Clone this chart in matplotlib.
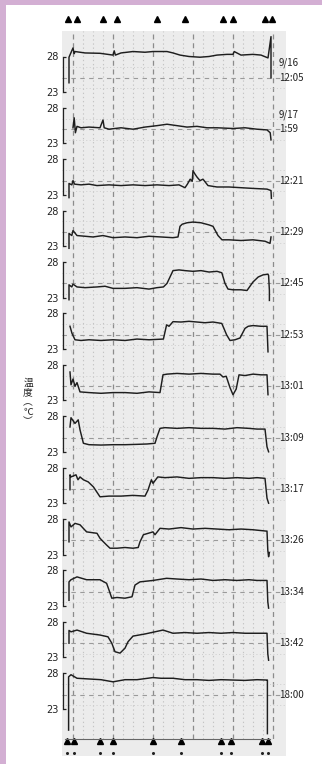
import matplotlib
matplotlib.use("Agg")
import matplotlib.pyplot as plt
from matplotlib.patches import Rectangle

# ---------------- data ----------------
time_labels = ["12:05", "1:59", "12:21", "12:29", "12:45", "12:53", "13:01",
               "13:09", "13:17", "13:26", "13:34", "13:42", "18:00"]
date_labels = ["9/16", "9/17", "", "", "", "", "", "", "", "", "", "", ""]
ytick_vals = [23, 28]
ytick_labels = ["23", "28"]

top_marks = [-1.25, 1, 7.5, 11, 21, 28, 37.5, 40, 48, 49.75]
bottom_marks = [-1.5, 0.25, 6.75, 10, 20, 27, 37, 39.5, 47.25, 48.75]

s1_t = [-1, -1, 0, 0.3, 0.5, 3, 6.75, 10, 10.3, 10.6, 12, 15, 18, 20, 23.5, 25, 26.75, 29, 31.75, 34, 36, 38.5, 40, 40.3, 42, 45, 47, 48.75, 49.5, 49.5]
s1_v = [24.3, 27.9, 29.2, 28.4, 28.7, 28.5, 28.45, 28.2, 28.8, 28.2, 28.5, 28.7, 28.6, 28.7, 28.7, 28.5, 28.2, 28.0, 27.9, 28.0, 28.2, 28.3, 28.3, 28.7, 28.2, 28.3, 28.2, 27.8, 30.8, 25.0]

s2_t = [0, 0.3, 0.6, 1, 2, 4, 6.75, 7.5, 7.8, 9, 12, 15, 18, 21, 23.5, 26, 28.5, 31, 33.5, 36, 40, 43, 46, 48.5, 49.3, 49.5]
s2_v = [25.2, 26.6, 24.5, 25.4, 25.2, 25.3, 25.2, 26.3, 25.2, 25.0, 25.2, 25.0, 25.3, 25.5, 25.7, 25.5, 25.3, 25.4, 25.2, 25.2, 25.1, 25.2, 25.0, 24.9, 24.5, 23.5]

s3_t = [-1, -1, -0.3, 0, 0.4, 2, 4, 6, 9, 12, 15, 18, 21, 24, 26.5, 28, 28.6, 29.3, 29.8, 30, 30.4, 31, 31.75, 32.5, 33.75, 36, 39, 42, 45, 48.5, 49.5, 49.6]
s3_v = [22.6, 24.6, 24.4, 25.0, 24.5, 24.4, 24.5, 24.3, 24.4, 24.3, 24.4, 24.3, 24.4, 24.3, 24.4, 24.0, 24.5, 25.2, 24.9, 26.4, 26.0, 25.5, 25.0, 25.2, 24.3, 24.1, 24.1, 24.0, 23.9, 23.8, 23.6, 22.5]

s4_t = [-1, -1, -0.3, 0, 1, 3, 5, 7.5, 10, 13, 16, 19, 22, 25, 26.25, 26.75, 27.3, 28.5, 30, 32, 34, 35, 36.25, 37.25, 39, 42, 45, 48, 49.25, 49.4, 49.5]
s4_v = [22.7, 24.8, 24.5, 25.2, 24.5, 24.4, 24.3, 24.5, 24.2, 24.3, 24.2, 24.4, 24.3, 24.2, 24.3, 25.8, 26.1, 26.3, 26.4, 26.3, 26.0, 25.8, 24.5, 23.9, 23.9, 23.8, 23.9, 23.7, 23.4, 23.9, 24.3]

s5_t = [-1, -1, -0.3, 0, 1, 3, 6, 8, 10, 13, 16, 19, 21, 22.6, 23.5, 24.25, 25, 26.5, 28, 30, 32, 34, 36, 37.2, 38, 38.75, 40, 42, 43.5, 45, 46.3, 47.5, 48.75, 48.9, 49.1, 49.1]
s5_v = [22.7, 24.8, 24.5, 24.9, 24.5, 24.4, 24.5, 24.6, 24.3, 24.3, 24.4, 24.2, 24.4, 24.5, 25.0, 25.9, 26.8, 26.9, 26.8, 26.7, 26.8, 26.6, 26.7, 26.5, 25.0, 24.2, 24.1, 24.1, 24.0, 25.2, 25.9, 26.2, 26.3, 26.1, 24.0, 22.6]

s6_t = [-0.75, -0.25, 0.5, 2, 4, 7, 10, 13, 16, 19, 22.6, 23.4, 24, 25, 27, 29, 31, 33, 35, 37.2, 38.4, 39.25, 40.5, 41.75, 43, 43.8, 45, 47, 48.5, 48.75]
s6_v = [26.2, 25.2, 24.3, 24.2, 24.3, 24.2, 24.3, 24.2, 24.4, 24.3, 24.4, 26.4, 26.2, 26.85, 26.8, 26.9, 26.8, 26.7, 26.8, 26.6, 25.0, 24.2, 24.3, 24.55, 25.9, 26.2, 26.3, 26.2, 26.2, 22.6]

s7_t = [-0.75, -0.5, 0, 0.5, 1, 1.75, 4, 7, 10, 13, 16, 19, 21.75, 22.5, 23.5, 26, 29, 32, 35, 36.75, 37.5, 38.3, 39.25, 40, 40.8, 41.5, 43, 45, 47, 48.5, 48.75]
s7_v = [27.0, 25.2, 26.0, 25.0, 25.5, 24.2, 24.1, 24.0, 24.1, 24.1, 24.0, 24.2, 24.1, 26.6, 26.7, 26.8, 26.7, 26.8, 26.7, 26.7, 26.3, 26.4, 24.8, 23.8, 24.6, 26.6, 26.5, 26.7, 26.6, 26.6, 23.8]

s8_t = [-0.75, -0.5, 0.5, 1.3, 1.75, 2.6, 4, 7, 10, 13, 16, 18.5, 20.5, 21, 21.75, 23, 26, 29, 32, 35, 38, 41, 44, 46, 48, 48.5, 48.9]
s8_v = [26.5, 27.8, 27.0, 27.5, 26.1, 24.2, 24.0, 23.95, 24.0, 24.0, 24.05, 24.1, 24.2, 25.1, 26.3, 26.4, 26.3, 26.4, 26.3, 26.3, 26.2, 26.4, 26.3, 26.2, 26.2, 23.7, 23.0]

s9_t = [-0.75, -0.75, -0.5, 0.75, 1.25, 1.75, 2.6, 3.8, 5.1, 6.4, 6.75, 9, 12, 15, 18, 18.75, 19.6, 20, 21.2, 23, 26, 29, 32, 35, 38, 41, 44, 46, 48, 48.5, 48.9]
s9_v = [24.9, 27.0, 26.7, 27.0, 26.3, 26.7, 26.3, 26.0, 25.3, 24.2, 23.9, 24.0, 24.0, 24.1, 24.0, 24.85, 26.3, 25.8, 26.7, 26.6, 26.7, 26.5, 26.6, 26.6, 26.5, 26.6, 26.5, 26.6, 26.5, 23.7, 23.0]

s10_t = [-1, -1, -0.5, 0.5, 1.75, 3.4, 6, 6.75, 7.6, 8.4, 9.25, 11, 13, 15, 16.3, 16.75, 17.6, 20, 20.5, 21.75, 24, 27, 30, 33, 36, 39, 42, 45, 48.5, 48.7, 48.9, 49.1]
s10_v = [24.8, 27.6, 26.9, 27.4, 27.2, 26.2, 26.0, 25.3, 24.8, 24.35, 23.9, 23.9, 24.0, 23.9, 24.0, 24.8, 25.8, 26.2, 25.8, 26.7, 26.6, 26.8, 26.6, 26.7, 26.6, 26.5, 26.6, 26.5, 26.3, 23.6, 22.7, 23.3]

s11_t = [-1, -1, -0.5, 1, 3.4, 6.75, 8.4, 9, 9.7, 11, 13, 14.75, 15.5, 16.75, 20, 23.4, 26, 29, 32, 35, 38, 41, 44, 46, 48.5, 48.7, 48.9]
s11_v = [23.8, 26.4, 26.7, 27.1, 26.7, 26.7, 26.2, 25.25, 24.1, 24.2, 24.1, 24.3, 25.95, 26.4, 26.6, 26.9, 26.8, 26.7, 26.8, 26.6, 26.7, 26.6, 26.7, 26.6, 26.6, 23.6, 22.7]

s12_t = [-1, -1, -0.5, 1, 3.4, 6.75, 8.75, 9.7, 10.5, 11.75, 13, 13.75, 15, 18, 22.5, 25, 28, 31, 34, 37, 40, 43, 46, 48.5, 48.7, 48.9]
s12_v = [25.0, 26.8, 26.6, 26.85, 26.4, 26.15, 25.9, 25.0, 23.8, 23.6, 24.3, 25.2, 26.0, 26.3, 26.85, 26.4, 26.5, 26.4, 26.5, 26.4, 26.5, 26.4, 26.4, 26.4, 23.5, 22.6]

s13_t = [-1.1, -1.1, -0.5, 1, 4, 7, 10, 13, 16, 20, 22, 25, 28, 31, 34, 37, 40, 43, 46, 48.5, 48.6, 48.6]
s13_v = [20.0, 27.5, 27.8, 27.3, 27.2, 27.1, 26.8, 27.1, 27.1, 27.4, 27.3, 27.3, 27.1, 27.1, 27.0, 27.1, 27.05, 27.0, 27.1, 27.05, 27.05, 19.5]

series_t = [s1_t, s2_t, s3_t, s4_t, s5_t, s6_t, s7_t, s8_t, s9_t, s10_t, s11_t, s12_t, s13_t]
series_v = [s1_v, s2_v, s3_v, s4_v, s5_v, s6_v, s7_v, s8_v, s9_v, s10_v, s11_v, s12_v, s13_v]

# ---------------- layout ----------------
W, H = 322, 764
fig = plt.figure(figsize=(W / 100, H / 100), dpi=100)
fig.patch.set_facecolor("white")

JP = ["Noto Sans CJK JP", "DejaVu Sans"]
XL = (-2.75, 53.25)
px_left, px_right = 62, 286


def fx(px):
    return px / W


def fy(px):
    return 1 - px / H


purple = "#d3afd3"
fig.add_artist(Rectangle((0, 0), 6 / W, 1, transform=fig.transFigure, color=purple, lw=0, zorder=0))
fig.add_artist(Rectangle((0, fy(5)), 1, 5 / H, transform=fig.transFigure, color=purple, lw=0, zorder=0))

# paper
paper = fig.add_axes([fx(px_left), fy(756), (px_right - px_left) / W, (756 - 31) / H], zorder=0)
paper.set_facecolor("#ececec")
paper.set_xticks([]); paper.set_yticks([])
for s in paper.spines.values():
    s.set_visible(False)

# grid axes
grid = fig.add_axes([fx(px_left), fy(739), (px_right - px_left) / W, (739 - 31) / H], zorder=1)
grid.set_facecolor("none")
grid.set_xlim(*XL)
grid.set_ylim(0, 1)
grid.set_xticks([0, 10, 20, 30, 40, 50])
grid.set_xticks([x * 2.5 for x in range(0, 21)], minor=True)
grid.tick_params(which="both", length=0, labelbottom=False, labelleft=False)
grid.set_yticks([])
grid.grid(which="minor", axis="x", color="#c4c4c4", ls=(0, (1.2, 2.5)), lw=0.8)
grid.grid(which="major", axis="x", color="#8c8c8c", ls=(0, (4, 3)), lw=0.9)
for k in ["top", "left", "right"]:
    grid.spines[k].set_visible(False)
grid.spines["bottom"].set_bounds(-2, 49.25)
grid.spines["bottom"].set_color("#666666")
grid.spines["bottom"].set_linewidth(0.8)

tx = grid.get_xaxis_transform()
grid.plot(top_marks, [1.017] * len(top_marks), ls="none", marker="^", ms=4.6,
          color="black", transform=tx, clip_on=False)
grid.plot(bottom_marks, [-0.003] * len(bottom_marks), ls="none", marker="^", ms=4.6,
          color="black", transform=tx, clip_on=False)
grid.plot(bottom_marks, [-0.0198] * len(bottom_marks), ls="none", marker="o", ms=1.2,
          color="#222222", transform=tx, clip_on=False)

# strips
scale = 7.1  # px per degree
strip_h = 51.4
for k in range(13):
    top28 = 56.5 + 51.4 * k
    top_px = top28 - 10
    ax = fig.add_axes([fx(px_left), fy(top_px + strip_h), (px_right - px_left) / W, strip_h / H], zorder=2)
    ax.set_facecolor("none")
    ax.set_xlim(*XL)
    ax.set_ylim(28 - 41.4 / scale, 28 + 10 / scale)
    ax.set_xticks([])
    ax.set_yticks(ytick_vals)
    ax.set_yticklabels(ytick_labels)
    ax.tick_params(axis="y", direction="in", length=2.4, width=0.9, pad=3.2,
                   labelsize=7, colors="#222222")
    for lab in ax.get_yticklabels():
        lab.set_family("DejaVu Sans")
    for s in ["top", "right", "bottom"]:
        ax.spines[s].set_visible(False)
    ax.spines["left"].set_bounds(23, 28)
    ax.spines["left"].set_position(("data", -2.5))
    ax.spines["left"].set_linewidth(0.9)
    ax.spines["left"].set_color("#222222")

    ax.axhline(25, color="#9a9a9a", lw=0.8, ls=(0, (4, 4)), zorder=1)
    for hv in (23.5, 26.5):
        ax.axhline(hv, color="#cdcdcd", lw=0.7, ls=(0, (1, 2.5)), zorder=1)

    ax.plot(series_t[k], series_v[k], color="#1e1e1e", lw=1.05, clip_on=False, zorder=3)

    ty = ax.get_yaxis_transform()
    ax.text(0.969, 25.0, time_labels[k], transform=ty, ha="left", va="center",
            fontsize=7, family=JP, color="#222222")
    if date_labels[k]:
        ax.annotate(date_labels[k], xy=(0.969, 25.0), xycoords=ty, xytext=(0, 10.5),
                    textcoords="offset points", ha="left", va="center",
                    fontsize=7, family=JP, color="#222222")

fig.text(fx(28), fy(402), "温\n度\n︵\n℃\n︶", ha="center", va="center",
         fontsize=7, family=JP, linespacing=0.95, color="#222222")

fig.savefig("out.png", dpi=100)
